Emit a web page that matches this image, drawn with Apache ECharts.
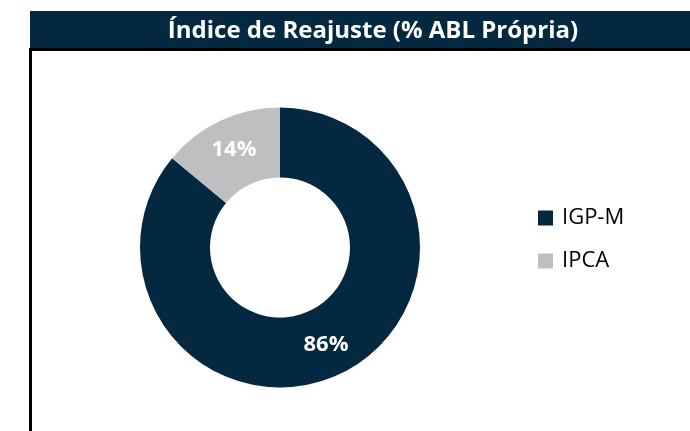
<!DOCTYPE html>
<html>
<head>
<meta charset="utf-8">
<script src="https://cdn.jsdelivr.net/npm/echarts@6/dist/echarts.min.js"></script>
<style>
html,body{margin:0;padding:0;background:#fff;}
#chart{width:690px;height:431px;}
</style>
</head>
<body>
<div id="chart"></div>
<script>
const titleText = 'Índice de Reajuste (% ABL Própria)';
const categories = ['IGP-M', 'IPCA'];
const values = [86, 14];
const colors = ['#03283F', '#BFBFBF'];

const chart = echarts.init(document.getElementById('chart'), null, {renderer: 'canvas'});
const FONT = '"Open Sans", sans-serif';

chart.setOption({
  backgroundColor: '#ffffff',
  animation: false,
  color: colors,
  graphic: [
    {type: 'rect', shape: {x: 30, y: 11, width: 660, height: 38}, style: {fill: '#03283F'}, z: 1},
    {type: 'rect', shape: {x: 29, y: 48, width: 661, height: 3}, style: {fill: '#000000'}, z: 2},
    {type: 'rect', shape: {x: 29, y: 48, width: 3, height: 383}, style: {fill: '#000000'}, z: 2},
    {type: 'text', x: 373, y: 31, z: 3,
      style: {text: titleText, fill: '#ffffff', font: 'bold 24px ' + FONT, textAlign: 'center', textVerticalAlign: 'middle'}}
  ],
  legend: {
    orient: 'vertical',
    left: 533,
    top: 202,
    itemWidth: 15,
    itemHeight: 15,
    itemGap: 21,
    icon: 'rect',
    textStyle: {fontFamily: FONT, fontSize: 22, color: '#000000', lineHeight: 22, padding: [0, 0, 0, 4]},
    data: categories
  },
  series: [{
    type: 'pie',
    center: [280, 247.5],
    radius: [70, 140],
    startAngle: 90,
    clockwise: true,
    avoidLabelOverlap: false,
    label: {
      show: true,
      position: 'inside',
      formatter: function (p) { return p.value + '%'; },
      color: '#ffffff',
      fontFamily: FONT,
      fontWeight: 'bold',
      fontSize: 22
    },
    labelLine: {show: false},
    emphasis: {disabled: true},
    itemStyle: {borderWidth: 0},
    data: categories.map(function (c, i) { return {name: c, value: values[i]}; })
  }]
});
</script>
</body>
</html>
